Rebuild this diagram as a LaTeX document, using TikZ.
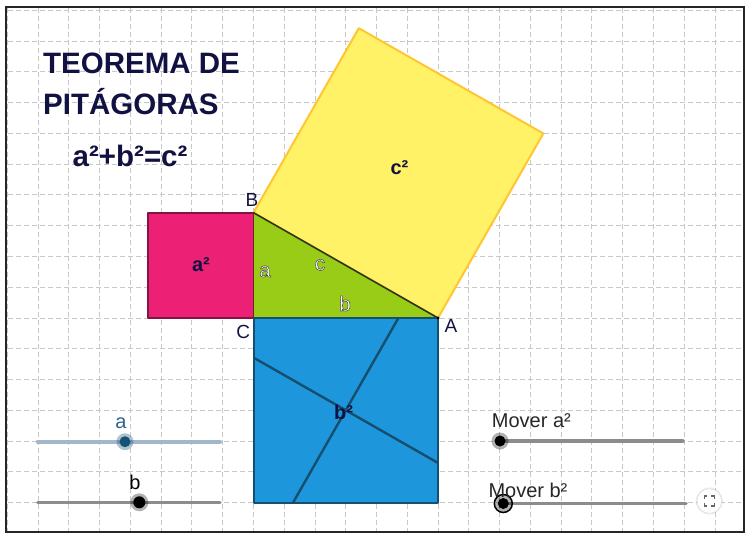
\documentclass[tikz,border=0pt]{standalone}
\usepackage{fontspec}
\setmainfont{Liberation Sans}
\definecolor{navy}{RGB}{18,18,66}
\definecolor{gridc}{RGB}{200,200,200}
\definecolor{pinkf}{RGB}{236,32,117}
\definecolor{pinkd}{RGB}{130,20,65}
\definecolor{greenf}{RGB}{153,204,22}
\definecolor{greend}{RGB}{45,55,25}
\definecolor{yellowf}{RGB}{255,242,102}
\definecolor{yellowd}{RGB}{255,198,50}
\definecolor{bluef}{RGB}{30,150,220}
\definecolor{blued}{RGB}{22,78,110}
\definecolor{slblue}{RGB}{46,98,140}
\definecolor{knobblue}{RGB}{22,82,118}
\newcommand\outlined[1]{\special{pdf:code 2 Tr 0.55 w 0.3 0.3 0.3 RG}#1\special{pdf:code 0 Tr}}
\tikzset{
  gridline/.style={draw=gridc,line width=0.9pt,dash pattern=on 5pt off 3pt},
  sqborder/.style={line width=2pt,line join=round},
  title/.style={font=\fontsize{29.5}{34}\bfseries\selectfont,text=navy,inner sep=0pt},
  sqlabel/.style={font=\fontsize{20}{24}\bfseries\selectfont,text=navy,inner sep=0pt},
  vlabel/.style={font=\fontsize{19}{22}\selectfont,text=navy,inner sep=0pt},
  tlabel/.style={font=\fontsize{21}{24}\selectfont,text=white,inner sep=0pt},
  slabel/.style={font=\fontsize{20}{24}\selectfont,inner sep=0pt},
  track/.style={line width=3.5pt,line cap=round},
}
\begin{document}
\begin{tikzpicture}[x=1pt,y=-1pt]
\useasboundingbox (0,0) rectangle (751,537);
% grid
\begin{scope}
\clip (6,7) rectangle (744,532);
\foreach \i in {0,...,24} \draw[gridline] ({7.3+30.77*\i},0) -- ++(0,540);
\foreach \j in {0,...,17} \draw[gridline] (0,{10.3+30.77*\j}) -- ++(760,0);
\end{scope}
\draw[line width=1.2pt,black!85] (6,7) rectangle (744,532);

% points
\coordinate (C) at (253.5,318);
\coordinate (A) at (438,318);
\coordinate (B) at (253.5,212.7);
\coordinate (P1) at (148,212.7);
\coordinate (P2) at (148,318);
\coordinate (Q1) at (358.8,28.2);
\coordinate (Q2) at (543.3,133.5);
\coordinate (R1) at (438,502.5);
\coordinate (R2) at (253.5,502.5);
\coordinate (L1a) at (253.5,357.6);
\coordinate (L1b) at (438,462.9);
\coordinate (L2a) at (398.4,318);
\coordinate (L2b) at (293.1,502.5);

% squares
\filldraw[sqborder,fill=yellowf,draw=yellowd] (B) -- (Q1) -- (Q2) -- (A) -- cycle;
\filldraw[sqborder,fill=pinkf,draw=pinkd] (B) -- (P1) -- (P2) -- (C) -- cycle;
\filldraw[sqborder,fill=bluef,draw=blued] (C) -- (A) -- (R1) -- (R2) -- cycle;
\draw[line width=2.4pt,blued] (L1a) -- (L1b);
\draw[line width=2.4pt,blued] (L2a) -- (L2b);
% triangle
\fill[greenf] (B) -- (C) -- (A) -- cycle;
\draw[line width=1.6pt,greend] (B) -- (A);
\draw[line width=1.6pt,pinkd!70!greend] (B) -- (C);
\draw[line width=1.6pt,blued] (C) -- (A);
\fill[black] (A) circle (1.6);

% title
\node[title,anchor=base west] (t1) at (43,73.3) {TEOREMA DE};
\node[title,anchor=base west] (t2) at (43,115) {PITÁGORAS};
\node[title,anchor=base west] (t3) at (72.5,166.5) {a²+b²=c²};

% square labels
\node[sqlabel,anchor=base] (la2) at (201,271.7) {a²};
\node[sqlabel,anchor=base] (lb2) at (343.5,419.3) {b²};
\node[sqlabel,anchor=base] (lc2) at (399.5,175) {c²};

% vertex labels
\node[vlabel,anchor=base] (nB) at (252,207) {B};
\node[vlabel,anchor=base] (nC) at (243.3,338.5) {C};
\node[vlabel,anchor=base] (nA) at (451,332) {A};

% side labels
\node[tlabel,anchor=base] (sa) at (265,277) {\outlined{a}};
\node[tlabel,anchor=base] (sc) at (320,270.5) {\outlined{c}};
\node[tlabel,anchor=base] (sb) at (345,311) {\outlined{b}};

% slider a
\coordinate (sa1) at (37.7,441.7);
\coordinate (sa2) at (220,441.7);
\coordinate (ka) at (125,441.7);
\draw[track,draw=slblue!45,line width=4pt] (sa1) -- (sa2);
\fill[knobblue,opacity=0.35] (ka) circle (8.5);
\fill[knobblue] (ka) circle (5.5);
\node[slabel,anchor=base,text=slblue] (lsa) at (121,428.3) {a};

% slider b
\coordinate (sb1) at (37.7,502.3);
\coordinate (sb2) at (220,502.3);
\coordinate (kb) at (139.3,502.3);
\draw[track,draw=black!45] (sb1) -- (sb2);
\fill[black,opacity=0.3] (kb) circle (9);
\fill[black] (kb) circle (6);
\node[slabel,anchor=base] (lsb) at (135,489.3) {b};

% Mover a2
\coordinate (ma1) at (500,441);
\coordinate (ma2) at (683,441);
\draw[track,draw=black!45] (ma1) -- (ma2);
\fill[black,opacity=0.3] (ma1) circle (8.5);
\fill[black] (ma1) circle (5.5);
\node[slabel,anchor=base west,text=black!85] (lma) at (491.7,427.7) {Mover a²};

% Mover b2
\coordinate (mb1) at (503.3,503.5);
\coordinate (mb2) at (686,503.5);
\draw[track,draw=black!45] (mb1) -- (mb2);
\fill[black,opacity=0.3] (mb1) circle (9);
\draw[black,line width=1.5pt] (mb1) circle (9);
\fill[black] (mb1) circle (5.5);
\node[slabel,anchor=base west,text=black!85] (lmb) at (488.3,497) {Mover b²};

% fullscreen button
\coordinate (fs) at (709.3,501);
\fill[black,opacity=0.08] (fs) circle (13.5);
\filldraw[fill=white,draw=black!12,line width=0.6pt] (fs) circle (12.3);
\begin{scope}[shift={(fs)},black!60,line width=1.1pt]
\draw (-5,-2) -- (-5,-5) -- (-2,-5);
\draw (2,-5) -- (5,-5) -- (5,-2);
\draw (-5,2) -- (-5,5) -- (-2,5);
\draw (2,5) -- (5,5) -- (5,2);
\end{scope}
\end{tikzpicture}
\end{document}
